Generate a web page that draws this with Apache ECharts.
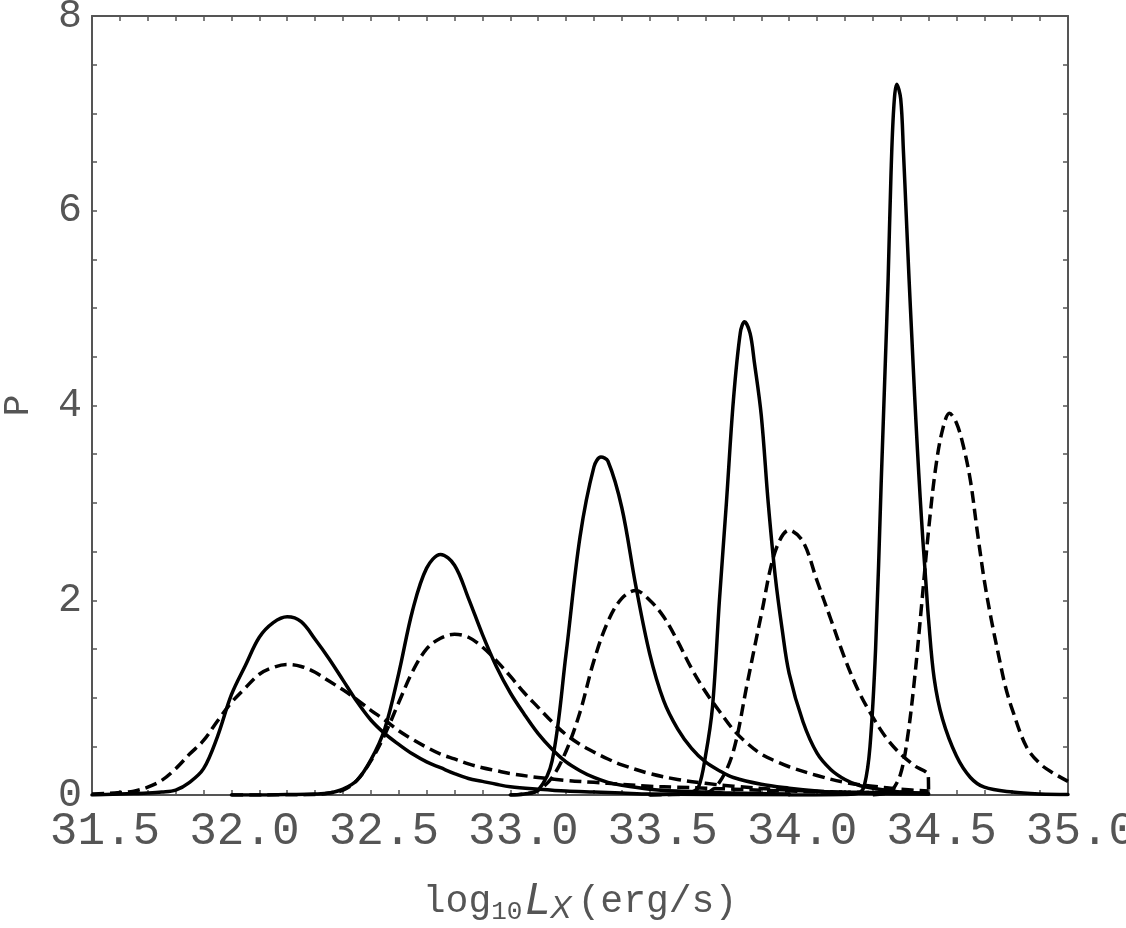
<!DOCTYPE html>
<html>
<head>
<meta charset="utf-8">
<script src="https://cdn.jsdelivr.net/npm/echarts@6/dist/echarts.min.js"></script>
<style>
html,body{margin:0;padding:0;background:#fff;}
#chart{width:1126px;height:928px;}
</style>
</head>
<body>
<div id="chart"></div>
<script>
// Tick labels
const xTickLabels = ['31.5','32.0','32.5','33.0','33.5','34.0','34.5','35.0'];
const yTickLabels = ['0','2','4','6','8'];

// Solid curves: [log10 Lx, P]
const solid1 = [[31.5,0],[31.55,0.005],[31.6,0.01],[31.65,0.015],[31.7,0.02],[31.75,0.03],[31.8,0.05],[31.85,0.13],[31.9,0.27],[31.95,0.6],[32.0,1.03],[32.05,1.33],[32.1,1.62],[32.15,1.77],[32.2,1.83],[32.25,1.78],[32.3,1.6],[32.35,1.4],[32.4,1.18],[32.45,0.96],[32.5,0.77],[32.55,0.63],[32.6,0.52],[32.65,0.42],[32.7,0.34],[32.75,0.28],[32.8,0.22],[32.85,0.17],[32.9,0.14],[32.95,0.11],[33.0,0.085],[33.1,0.06],[33.2,0.04],[33.3,0.03],[33.4,0.02],[33.5,0.01],[34.0,0.003]];
const solid2 = [[32.0,0],[32.1,0],[32.2,0.005],[32.3,0.01],[32.35,0.02],[32.4,0.06],[32.45,0.15],[32.5,0.36],[32.55,0.68],[32.6,1.25],[32.65,1.9],[32.7,2.33],[32.75,2.47],[32.8,2.36],[32.85,2.02],[32.9,1.65],[32.95,1.32],[33.0,1.05],[33.05,0.83],[33.1,0.63],[33.15,0.47],[33.2,0.34],[33.25,0.25],[33.3,0.18],[33.35,0.13],[33.4,0.1],[33.5,0.06],[33.6,0.04],[33.7,0.03],[33.8,0.02],[34.0,0.01]];
const solid3 = [[33.0,0],[33.05,0.01],[33.1,0.05],[33.15,0.35],[33.2,1.45],[33.25,2.65],[33.3,3.37],[33.325,3.47],[33.35,3.43],[33.4,2.95],[33.45,2.15],[33.5,1.45],[33.55,0.97],[33.6,0.68],[33.65,0.48],[33.7,0.34],[33.75,0.25],[33.8,0.18],[33.9,0.11],[34.0,0.07],[34.1,0.04],[34.2,0.02],[34.5,0.01]];
const solid4 = [[33.5,0],[33.6,0.01],[33.65,0.03],[33.675,0.08],[33.7,0.4],[33.725,0.9],[33.75,2.0],[33.775,3.0],[33.8,4.05],[33.825,4.75],[33.84,4.86],[33.86,4.74],[33.875,4.45],[33.9,3.9],[33.925,3.0],[33.95,2.25],[33.975,1.7],[34.0,1.25],[34.05,0.75],[34.1,0.43],[34.15,0.26],[34.2,0.16],[34.25,0.1],[34.3,0.07],[34.4,0.03],[34.5,0.01]];
const solid5 = [[34.0,0],[34.2,0.005],[34.25,0.02],[34.27,0.1],[34.29,0.5],[34.31,1.5],[34.33,3.2],[34.345,4.45],[34.355,5.3],[34.365,6.35],[34.375,7.05],[34.386,7.3],[34.4,7.15],[34.41,6.6],[34.42,5.95],[34.43,5.3],[34.44,4.7],[34.45,4.1],[34.46,3.55],[34.47,3.05],[34.48,2.6],[34.49,2.2],[34.5,1.8],[34.52,1.2],[34.55,0.78],[34.6,0.4],[34.65,0.18],[34.7,0.08],[34.8,0.03],[34.9,0.01],[35.0,0.005]];

// Dashed curves
const dashed1 = [[31.5,0.01],[31.55,0.015],[31.6,0.025],[31.65,0.04],[31.7,0.08],[31.75,0.15],[31.8,0.27],[31.85,0.42],[31.9,0.56],[31.95,0.76],[32.0,0.95],[32.05,1.1],[32.1,1.24],[32.15,1.31],[32.2,1.34],[32.25,1.32],[32.3,1.26],[32.35,1.17],[32.4,1.08],[32.45,0.98],[32.5,0.87],[32.55,0.77],[32.6,0.66],[32.65,0.57],[32.7,0.49],[32.75,0.42],[32.8,0.37],[32.85,0.32],[32.9,0.28],[32.95,0.25],[33.0,0.22],[33.1,0.18],[33.2,0.15],[33.3,0.13],[33.4,0.11],[33.5,0.09],[33.6,0.08],[33.7,0.07],[33.8,0.06],[34.0,0.04],[34.2,0.03],[34.5,0.02]];
const dashed2 = [[32.0,0],[32.3,0.005],[32.35,0.02],[32.4,0.05],[32.45,0.15],[32.5,0.35],[32.55,0.62],[32.6,0.95],[32.65,1.27],[32.7,1.5],[32.75,1.61],[32.8,1.65],[32.85,1.62],[32.9,1.52],[32.95,1.38],[33.0,1.22],[33.05,1.05],[33.1,0.9],[33.15,0.75],[33.2,0.62],[33.25,0.52],[33.3,0.44],[33.35,0.37],[33.4,0.31],[33.5,0.22],[33.6,0.16],[33.7,0.12],[33.8,0.09],[34.0,0.05],[34.2,0.03],[34.5,0.02]];
const dashed3 = [[33.0,0],[33.05,0.01],[33.1,0.05],[33.15,0.18],[33.2,0.45],[33.25,0.85],[33.3,1.38],[33.35,1.78],[33.4,2.02],[33.45,2.1],[33.5,2.0],[33.55,1.83],[33.6,1.58],[33.65,1.3],[33.7,1.06],[33.75,0.86],[33.8,0.67],[33.85,0.53],[33.9,0.42],[33.95,0.35],[34.0,0.29],[34.1,0.2],[34.2,0.13],[34.3,0.09],[34.4,0.06],[34.5,0.04]];
const dashed4 = [[33.5,0],[33.6,0.005],[33.65,0.01],[33.7,0.02],[33.75,0.13],[33.8,0.45],[33.85,1.15],[33.9,1.85],[33.95,2.5],[34.0,2.72],[34.05,2.6],[34.1,2.2],[34.15,1.8],[34.2,1.4],[34.25,1.06],[34.3,0.8],[34.35,0.58],[34.4,0.42],[34.45,0.3],[34.499,0.2],[34.5,0]];
const dashed5 = [[34.3,0],[34.35,0.02],[34.37,0.05],[34.4,0.22],[34.425,0.6],[34.45,1.2],[34.475,1.95],[34.5,2.72],[34.525,3.35],[34.55,3.75],[34.575,3.92],[34.6,3.82],[34.625,3.58],[34.65,3.23],[34.675,2.7],[34.7,2.2],[34.725,1.8],[34.75,1.45],[34.775,1.12],[34.8,0.88],[34.85,0.5],[34.9,0.32],[34.95,0.22],[35.0,0.14]];

const solidCurves = [solid1, solid2, solid3, solid4, solid5];
const dashedCurves = [dashed1, dashed2, dashed3, dashed4, dashed5];

const axisColor = '#555';
const textColor = '#555';
const monoFont = '"Liberation Mono", "DejaVu Sans Mono", monospace';

function xFmt(v) {
  const r = Math.round(v * 10);
  if (r % 5 !== 0) return '';
  const idx = (r - 315) / 5;
  return xTickLabels[idx] !== undefined ? xTickLabels[idx] : '';
}
function yFmt(v) {
  const r = Math.round(v * 10);
  if (r % 20 !== 0) return '';
  const idx = r / 20;
  return yTickLabels[idx] !== undefined ? yTickLabels[idx] : '';
}

const series = [];
solidCurves.forEach((d, i) => series.push({
  name: 'solid' + (i + 1), type: 'line', data: d, showSymbol: false, symbol: 'none',
  smooth: 0.35, silent: true,
  lineStyle: { color: '#000', width: 3.5, type: 'solid', join: 'round', cap: 'round' }, z: 3
}));
dashedCurves.forEach((d, i) => series.push({
  name: 'dashed' + (i + 1), type: 'line', data: d, showSymbol: false, symbol: 'none',
  smooth: 0.35, silent: true,
  lineStyle: { color: '#000', width: 3.5, type: [12, 6], join: 'round' }, z: 3
}));

const chart = echarts.init(document.getElementById('chart'), null, { renderer: 'canvas' });
chart.setOption({
  animation: false,
  backgroundColor: '#fff',
  grid: { left: 92, right: 58, top: 16, bottom: 133, containLabel: false, outerBoundsMode: 'none' },
  xAxis: [{
    type: 'value', min: 31.5, max: 35.0, interval: 0.1, position: 'bottom',
    name: '{m|log}{s|10} {L|L}{X|X}{m|(erg/s)}',
    nameLocation: 'middle', nameGap: 84,
    nameTextStyle: {
      rich: {
        m: { fontFamily: monoFont, fontSize: 38, color: textColor },
        s: { fontFamily: monoFont, fontSize: 26, color: textColor, verticalAlign: 'bottom', padding: [16, 0, 0, 0] },
        L: { fontFamily: '"Liberation Sans", Arial, sans-serif', fontStyle: 'italic', fontSize: 44, color: textColor },
        X: { fontFamily: '"Liberation Sans", Arial, sans-serif', fontStyle: 'italic', fontSize: 32, color: textColor, verticalAlign: 'bottom', padding: [14, 6, 0, 0] }
      }
    },
    axisLine: { show: true, onZero: false, lineStyle: { color: axisColor, width: 2 } },
    axisTick: { show: true, inside: true, length: 5, lineStyle: { color: axisColor, width: 1.5 } },
    axisLabel: { show: true, formatter: xFmt, fontFamily: monoFont, fontSize: 46, color: textColor, margin: 14, padding: [0, 0, 0, 26] },
    splitLine: { show: false }
  }, {
    type: 'value', min: 31.5, max: 35.0, interval: 0.1, position: 'top',
    axisLine: { show: true, onZero: false, lineStyle: { color: axisColor, width: 2 } },
    axisTick: { show: true, inside: true, length: 5, lineStyle: { color: axisColor, width: 1.5 } },
    axisLabel: { show: false }, splitLine: { show: false }
  }],
  yAxis: [{
    type: 'value', min: 0, max: 8, interval: 0.5, position: 'left',
    name: 'P', nameLocation: 'middle', nameGap: 56, nameRotate: 90,
    nameTextStyle: { fontFamily: monoFont, fontSize: 36, color: textColor },
    axisLine: { show: true, onZero: false, lineStyle: { color: axisColor, width: 2 } },
    axisTick: { show: true, inside: true, length: 5, lineStyle: { color: axisColor, width: 1.5 } },
    axisLabel: { show: true, formatter: yFmt, fontFamily: monoFont, fontSize: 40, color: textColor, margin: 10 },
    splitLine: { show: false }
  }, {
    type: 'value', min: 0, max: 8, interval: 0.5, position: 'right',
    axisLine: { show: true, onZero: false, lineStyle: { color: axisColor, width: 2 } },
    axisTick: { show: true, inside: true, length: 5, lineStyle: { color: axisColor, width: 1.5 } },
    axisLabel: { show: false }, splitLine: { show: false }
  }],
  series: series
});
</script>
</body>
</html>
